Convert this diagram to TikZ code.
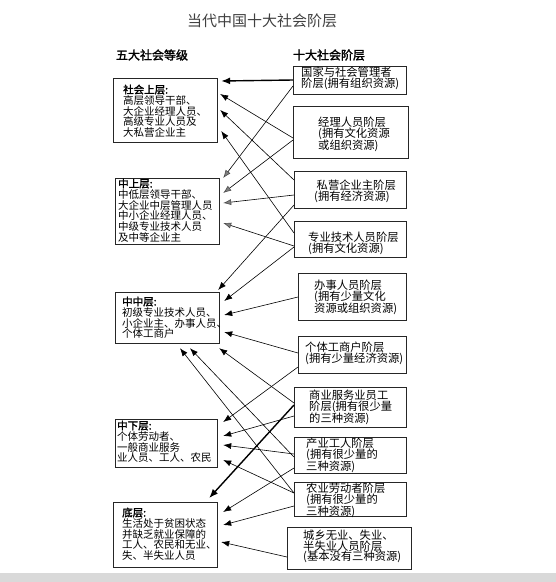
\documentclass[tikz,border=0pt]{standalone}
\usepackage{fontspec}
\setmainfont{Noto Sans CJK SC}
\newfontfamily\cjkb[FakeBold=2]{Noto Sans CJK SC}
\usetikzlibrary{arrows.meta,calc}
\begin{document}
\begin{tikzpicture}[x=1pt,y=-1pt,
  box/.style={draw=black!85,line width=1.2pt,anchor=north west,inner sep=0pt},
  txt/.style={anchor=north west,inner sep=0pt,align=left,font=\fontsize{10.5}{10.8}\selectfont},
  rtxt/.style={anchor=north west,inner sep=0pt,align=left,font=\fontsize{11.3}{10.8}\selectfont},
  con/.style={draw=black,line width=0.6pt,-{Latex[length=8pt,width=6pt]}},
  heavycon/.style={draw=black,line width=1.4pt,-{Latex[length=9pt,width=7pt]}},
  graycon/.style={draw=black,line width=0.6pt,-{Latex[length=8pt,width=6pt,fill=black!50,color=black!70]}}
]
\useasboundingbox (0,0) rectangle (556,582);
\fill[black!15] (0,573) rectangle (556,582);

\node[font=\fontsize{15}{15}\selectfont,text=black!75] (title) at (262,21) {当代中国十大社会阶层};
\node[font=\cjkb\fontsize{12}{12}\selectfont] (hl) at (152,55) {五大社会等级};
\node[font=\cjkb\fontsize{12}{12}\selectfont] (hr) at (329,55) {十大社会阶层};

% left boxes
\node[box,minimum width=104pt,minimum height=64pt] (L1) at (113,78) {};
\node[box,minimum width=104pt,minimum height=66pt] (L2) at (115,178) {};
\node[box,minimum width=104pt,minimum height=51pt] (L3) at (115,292) {};
\node[box,minimum width=102pt,minimum height=48pt] (L4) at (115,419) {};
\node[box,minimum width=104pt,minimum height=65pt] (L5) at (113,502) {};

\node[txt] (T1) at (123,84.5) {{\cjkb 社会上层:}\\高层领导干部、\\大企业经理人员、\\高级专业人员及\\大私营企业主};
\node[txt] (T2) at (118,178.5) {{\cjkb 中上层:}\\中低层领导干部、\\大企业中层管理人员\\中小企业经理人员、\\中级专业技术人员\\及中等企业主};
\node[txt] (T3) at (122,296.5) {{\cjkb 中中层:}\\初级专业技术人员、\\小企业主、办事人员、\\个体工商户};
\node[txt] (T4) at (117,420.5) {{\cjkb 中下层:}\\个体劳动者、\\一般商业服务\\业人员、工人、农民};
\node[txt] (T5) at (122,507.5) {{\cjkb 底层:}\\生活处于贫困状态\\并缺乏就业保障的\\工人、农民和无业、\\失、半失业人员};

% right boxes
\node[box,minimum width=113pt,minimum height=28pt] (R1) at (293,66) {};
\node[box,minimum width=115pt,minimum height=52pt] (R2) at (293,106) {};
\node[box,minimum width=112pt,minimum height=37pt] (R3) at (294,171) {};
\node[box,minimum width=112pt,minimum height=36pt] (R4) at (294,221) {};
\node[box,minimum width=108pt,minimum height=47pt] (R5) at (298,273) {};
\node[box,minimum width=108pt,minimum height=37pt] (R6) at (298,336) {};
\node[box,minimum width=112pt,minimum height=40pt] (R7) at (294,387) {};
\node[box,minimum width=112pt,minimum height=36pt] (R8) at (294,437) {};
\node[box,minimum width=112pt,minimum height=34pt] (R9) at (294,482) {};
\node[box,minimum width=124pt,minimum height=42pt] (R10) at (287,527) {};

\node[rtxt] (U1) at (301,66.5) {国家与社会管理者\\阶层(拥有组织资源)};
\node[rtxt] (U2) at (318,116.5) {经理人员阶层\\(拥有文化资源\\或组织资源)};
\node[rtxt] (U3) at (314,179.5) {\ 私营企业主阶层\\(拥有经济资源)};
\node[rtxt] (U4) at (308,231.5) {专业技术人员阶层\\(拥有文化资源)};
\node[rtxt] (U5) at (314,279.5) {办事人员阶层\\(拥有少量文化\\资源或组织资源)};
\node[rtxt] (U6) at (305,341.5) {个体工商户阶层\\(拥有少量经济资源)};
\node[rtxt] (U7) at (309,389.5) {商业服务业员工\\阶层(拥有很少量\\的三种资源)};
\node[rtxt] (U8) at (306,437.5) {产业工人阶层\\(拥有很少量的\\三种资源)};
\node[rtxt] (U9) at (306,482.5) {农业劳动者阶层\\(拥有很少量的\\三种资源)};
\node[rtxt] (U10) at (303,529.5) {城乡无业、失业、\\半失业人员阶层\\(基本没有三种资源)};

% connectors to 社会上层
\draw[heavycon] ($(R1.north west)+(0,14)$) -- ($(L1.north east)+(3,3)$);
\draw[con] ($(R2.north west)+(0,32)$) -- ($(L1.north east)+(2,16)$);
\draw[con] ($(R3.north west)+(0,9)$) -- ($(L1.north east)+(2,32)$);
\draw[con] ($(R4.north west)+(0,12)$) -- ($(L1.north east)+(3,53)$);
% to 中上层
\draw[graycon] ($(R1.north west)+(0,20)$) -- ($(L2.north east)+(3,0)$);
\draw[graycon] ($(R2.north west)+(0,34)$) -- ($(L2.north east)+(3,15)$);
\draw[graycon] ($(R3.north west)+(0,24)$) -- ($(L2.north east)+(3,25)$);
\draw[graycon] ($(R4.north west)+(0,25)$) -- ($(L2.north east)+(3,45)$);
% to 中中层
\draw[con] ($(R3.north west)+(0,34)$) -- ($(L3.north east)+(-2,-2)$);
\draw[con] ($(R4.north west)+(0,26)$) -- ($(L3.north east)+(4,9)$);
\draw[con] ($(R5.north west)+(0,24)$) -- ($(L3.north east)+(4,23)$);
\draw[con] ($(R6.north west)+(0,17)$) -- ($(L3.north east)+(4,40)$);
\draw[con] ($(R7.north west)+(0,16)$) -- ($(L3.south east)+(-1,4)$);
\draw[con] ($(R8.north west)+(0,20)$) -- ($(L3.south west)+(75,4)$);
\draw[con] ($(R9.north west)+(0,11)$) -- ($(L3.south west)+(65,4)$);
% to 中下层
\draw[con] ($(R6.north west)+(0,31)$) -- ($(L4.north east)+(5,3)$);
\draw[con] ($(R7.north west)+(0,29)$) -- ($(L4.north east)+(5,17)$);
\draw[con] ($(R8.north west)+(0,17)$) -- ($(L4.north east)+(5,26)$);
\draw[con] ($(R9.north west)+(0,11)$) -- ($(L4.north east)+(5,41)$);
% to 底层
\draw[heavycon] ($(R7.north west)+(0,18)$) -- ($(L5.north east)+(-9,-4)$);
\draw[con] ($(R8.north west)+(0,31)$) -- ($(L5.north east)+(5,10)$);
\draw[con] ($(R9.north west)+(0,24)$) -- ($(L5.north east)+(5,23)$);
\draw[con] ($(R10.north west)+(0,30)$) -- ($(L5.north east)+(3,40)$);
\end{tikzpicture}
\end{document}
